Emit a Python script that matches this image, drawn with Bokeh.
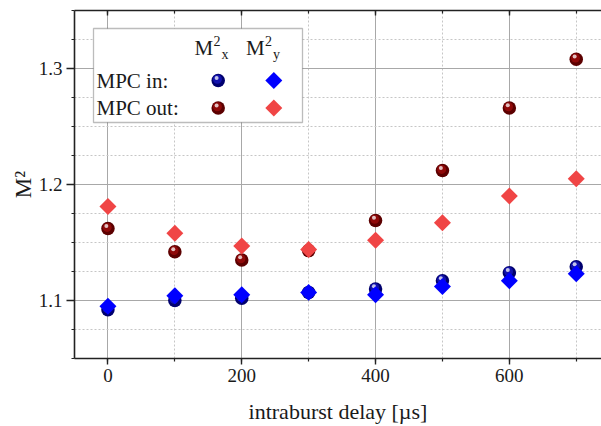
from bokeh.plotting import figure
from bokeh.models import (LinearAxis, SingleIntervalTicker, Label, BoxAnnotation,
                          ColumnDataSource, Range1d)
from bokeh.embed import file_html
from bokeh.resources import INLINE
from bokeh.core.properties import value
import math

# ---------------- data ----------------
delay = [0, 100, 200, 300, 400, 500, 600, 700]
mpc_in_m2x = [1.092, 1.100, 1.102, 1.107, 1.110, 1.117, 1.124, 1.129]
mpc_in_m2y = [1.095, 1.104, 1.105, 1.107, 1.105, 1.112, 1.117, 1.123]
mpc_out_m2x = [1.162, 1.142, 1.135, 1.143, 1.169, 1.212, 1.266, 1.308]
mpc_out_m2y = [1.181, 1.158, 1.147, 1.144, 1.152, 1.167, 1.190, 1.205]
row_labels = ["MPC in:", "MPC out:"]
x_label = "intraburst delay [µs]"
y_label = "M²"

# ---------------- layout ----------------
W, H = 601, 426
FL, FT, FB, FR = 74, 10, 358, 601
XPX = 0.669                       # px per x unit
X0 = -50
X1 = X0 + (FR - FL) / XPX
Y0, Y1 = 1.05, 1.35
YPX = (FB - FT) / (Y1 - Y0)

def px_x(px):
    return X0 + (px - FL) / XPX

def px_y(py):
    return Y1 - (py - FT) / YPX

FONT = "Liberation Serif"
TXT = "#1a1a1a"

p = figure(width=W, height=H, x_range=Range1d(X0, X1), y_range=Range1d(Y0, Y1),
           output_backend="svg", toolbar_location=None,
           min_border_left=FL, min_border_right=0, min_border_top=FT,
           min_border_bottom=H - FB, outline_line_color=None,
           background_fill_color="white", border_fill_color="white")

xt = SingleIntervalTicker(interval=200, num_minor_ticks=2)
yt = SingleIntervalTicker(interval=0.1, num_minor_ticks=4)
p.xaxis.ticker = xt
p.yaxis.ticker = yt

for ax in (p.xaxis[0], p.yaxis[0]):
    ax.axis_line_color = "#222222"
    ax.axis_line_width = 1.6
    ax.major_tick_line_color = "#222222"
    ax.minor_tick_line_color = "#222222"
    ax.major_tick_line_width = 1.4
    ax.minor_tick_line_width = 1.2
    ax.major_tick_in = 0
    ax.minor_tick_in = 0
    ax.minor_tick_out = 3
    ax.major_label_text_font = FONT
    ax.major_label_text_font_size = "19px"
    ax.major_label_text_color = TXT
    ax.axis_label_text_font = FONT
    ax.axis_label_text_font_style = "normal"
    ax.axis_label_text_font_size = "22px"
    ax.axis_label_text_color = TXT

p.xaxis.major_tick_out = 6
p.xaxis.major_label_standoff = 4
p.xaxis.axis_label = x_label
p.xaxis.axis_label_standoff = 14

p.yaxis.major_tick_out = 8
p.yaxis.major_label_standoff = 4
p.yaxis.axis_label = y_label
p.yaxis.axis_label_standoff = 0
p.yaxis.axis_label_text_font_size = "23px"

top = LinearAxis(ticker=xt, axis_line_color="#222222", axis_line_width=1.6,
                 major_tick_in=5, major_tick_out=0, minor_tick_in=3, minor_tick_out=0,
                 major_tick_line_color="#222222", minor_tick_line_color="#222222",
                 major_tick_line_width=1.4, minor_tick_line_width=1.2,
                 major_label_text_font_size="1px", major_label_standoff=0,
                 major_label_text_alpha=0)
p.add_layout(top, "above")

for g in (p.xgrid[0], p.ygrid[0]):
    g.grid_line_color = "#a8a8a8"
    g.grid_line_width = 1
    g.minor_grid_line_color = "#c6c6c6"
    g.minor_grid_line_dash = "2 2"
    g.minor_grid_line_width = 1

src = ColumnDataSource(dict(x=delay, in_x=mpc_in_m2x, in_y=mpc_in_m2y,
                            out_x=mpc_out_m2x, out_y=mpc_out_m2y))

DX1, DY1 = -0.8 / XPX, 1.2 / YPX
DX2, DY2 = -1.6 / XPX, 2.6 / YPX

def sphere(xs, ys, base, mid, level="glyph"):
    hx = [v + DX1 for v in xs]
    hy = [v + DY1 for v in ys]
    sx = [v + DX2 for v in xs]
    sy = [v + DY2 for v in ys]
    p.scatter(xs, ys, size=13.5, marker="circle", fill_color=base, line_color=None, level=level)
    p.scatter(hx, hy, size=9, marker="circle", fill_color=mid, fill_alpha=0.9, line_color=None, level=level)
    p.scatter(sx, sy, size=4, marker="circle", fill_color="white", fill_alpha=0.75, line_color=None, level=level)

def diamond(xs, ys, color, level="glyph"):
    p.scatter(xs, ys, size=12, marker="square", angle=math.pi / 4,
              fill_color=color, line_color=None, level=level)

BLUE_BASE, BLUE_MID = "#00006e", "#1414b4"
RED_BASE, RED_MID = "#5c0000", "#950a0a"
BLUE_D, RED_D = "#0000ff", "#f04545"

sphere(delay, mpc_in_m2x, BLUE_BASE, BLUE_MID)
diamond(delay, mpc_in_m2y, BLUE_D)
sphere(delay, mpc_out_m2x, RED_BASE, RED_MID)
diamond(delay, mpc_out_m2y, RED_D)

# ---------------- legend ----------------
LB_L, LB_R, LB_T, LB_B = 93, 302, 28, 122
p.add_layout(BoxAnnotation(left=px_x(LB_L), right=px_x(LB_R), top=px_y(LB_T), bottom=px_y(LB_B),
                           fill_color="white", fill_alpha=1.0,
                           line_color="#222222", line_width=1.3))

row_py = [80, 107.5]
for lab, py in zip(row_labels, row_py):
    p.add_layout(Label(x=px_x(96), y=px_y(py), text=lab, text_font=FONT,
                       text_font_size="21px", text_color=TXT,
                       text_align="left", text_baseline="middle"))

for mx, sub in ((194, "x"), (245.5, "y")):
    p.add_layout(Label(x=px_x(mx), y=px_y(47), text="M", text_font=FONT,
                       text_font_size="21px", text_color=TXT,
                       text_align="left", text_baseline="middle"))
    p.add_layout(Label(x=px_x(mx + 19), y=px_y(40), text="2", text_font=FONT,
                       text_font_size="14px", text_color=TXT,
                       text_align="left", text_baseline="middle"))
    p.add_layout(Label(x=px_x(mx + 27), y=px_y(53.5), text=sub, text_font=FONT,
                       text_font_size="14px", text_color=TXT,
                       text_align="left", text_baseline="middle"))

col_px = [217.7, 273.3]
sphere([px_x(col_px[0])], [px_y(row_py[0])], BLUE_BASE, BLUE_MID, level="overlay")
diamond([px_x(col_px[1])], [px_y(row_py[0])], BLUE_D, level="overlay")
sphere([px_x(col_px[0])], [px_y(row_py[1])], RED_BASE, RED_MID, level="overlay")
diamond([px_x(col_px[1])], [px_y(row_py[1])], RED_D, level="overlay")

open("out.html", "w").write(file_html(p, INLINE))
